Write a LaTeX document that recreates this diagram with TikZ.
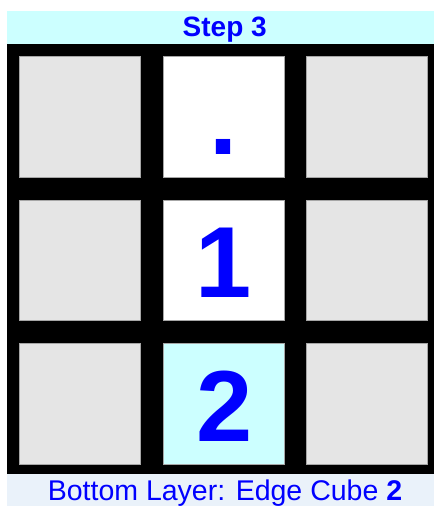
\documentclass[tikz,border=0pt]{standalone}
\usepackage{fontspec}
\setmainfont{Liberation Sans}
\definecolor{topband}{HTML}{CCFFFF}
\definecolor{botband}{HTML}{EAF2FA}
\definecolor{cellgray}{HTML}{E5E5E5}
\definecolor{txtblue}{HTML}{0000FF}
\tikzset{
  cellbox/.style={draw=gray!70, line width=0.6pt, minimum width=120.8pt, minimum height=120.8pt, inner sep=0pt, anchor=north west},
  digit/.style={text=txtblue, font=\fontsize{101}{101}\selectfont\bfseries, anchor=base, inner sep=0pt},
}
\begin{document}
\begin{tikzpicture}[x=1pt,y=-1pt]
\useasboundingbox (0,0) rectangle (434,506);
\fill[white] (0,0) rectangle (434,506);
% top band
\fill[topband] (7.3,11) rectangle (434,44);
\node[text=txtblue, font=\fontsize{28}{28}\selectfont\bfseries, anchor=base, inner sep=0pt] (title) at (224.7,36.6) {Step 3};
% black grid background
\fill[black] (7.3,44) rectangle (434,474);
% cells
\node[cellbox, fill=cellgray] (c11) at (19.3,56) {};
\node[cellbox, fill=white] (c12) at (163.3,56) {};
\node[cellbox, fill=cellgray] (c13) at (306.3,56) {};
\node[cellbox, fill=cellgray] (c21) at (19.3,199.5) {};
\node[cellbox, fill=white] (c22) at (163.3,199.5) {};
\node[cellbox, fill=cellgray] (c23) at (306.3,199.5) {};
\node[cellbox, fill=cellgray] (c31) at (19.3,343) {};
\node[cellbox, fill=topband] (c32) at (163.3,343) {};
\node[cellbox, fill=cellgray] (c33) at (306.3,343) {};
% digits
\node[digit] (d1) at (224,154) {.};
\node[digit] (d2) at (223.7,297) {1};
\node[digit] (d3) at (224.2,441) {2};
% bottom band
\fill[botband] (7.3,474) rectangle (434,506);
\node[text=txtblue, font=\fontsize{28.5}{28.5}\selectfont, anchor=base, inner sep=0pt] (caption) at (225,500.5) {Bottom Layer: Edge Cube \textbf{2}};
\end{tikzpicture}
\end{document}
